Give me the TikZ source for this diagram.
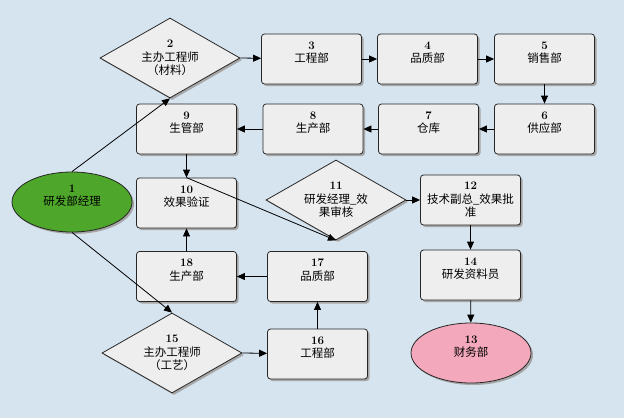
\documentclass[tikz,border=0pt]{standalone}
\usepackage{fontspec}
\newfontfamily\cjk{Noto Sans CJK SC}
\usetikzlibrary{shapes.geometric,arrows.meta,shadows}
\definecolor{bgblue}{RGB}{214,228,240}
\definecolor{boxgray}{RGB}{238,238,238}
\definecolor{mgrgreen}{RGB}{78,167,42}
\definecolor{finpink}{RGB}{244,168,188}
\newcommand\nr[1]{{\normalfont\bfseries #1}}
\begin{document}
\begin{tikzpicture}[x=1pt,y=-1pt,>={Triangle[length=8pt,width=7pt]},line width=0.8pt,
    font=\cjk\fontsize{11.5}{13.5}\selectfont,
    shadowed/.style={drop shadow={shadow xshift=2pt,shadow yshift=-2pt,fill=black!35,opacity=1}},
    box/.style={draw=black!85,fill=boxgray,rounded corners=3pt,minimum width=100pt,minimum height=50pt,inner sep=0pt,align=center,shadowed},
    check/.style={diamond,draw=black!85,fill=boxgray,aspect=1.75,minimum width=140pt,minimum height=80pt,inner sep=0pt,align=center,shadowed},
    oval/.style={ellipse,draw=black!85,minimum width=120pt,minimum height=60pt,inner sep=0pt,align=center,shadowed}]
        \fill[bgblue] (0,0) rectangle (624,418);
        % Nodes
        \node[oval, fill=mgrgreen] (n1) at (72,202) {\nr{1}\\研发部经理\\\mbox{}};
        \node[check] (n2) at (170,58) {\nr{2}\\主办工程师\\（材料）};
        \node[box] (n3) at (311.5,59) {\nr{3}\\工程部\\\mbox{}};
        \node[box] (n4) at (427.5,59) {\nr{4}\\品质部\\\mbox{}};
        \node[box] (n5) at (544.5,59) {\nr{5}\\销售部\\\mbox{}};
        \node[box] (n6) at (544.5,129) {\nr{6}\\供应部\\\mbox{}};
        \node[box] (n7) at (428.5,129) {\nr{7}\\仓库\\\mbox{}};
        \node[box] (n8) at (313,129) {\nr{8}\\生产部\\\mbox{}};
        \node[box] (n9) at (186.5,129) {\nr{9}\\生管部\\\mbox{}};
        \node[box] (n10) at (186.5,203) {\nr{10}\\效果验证\\\mbox{}};
        \node[check] (n11) at (336,200) {\nr{11}\\研发经理\_效\\果审核};
        \node[box] (n12) at (470.5,200) {\nr{12}\\技术副总\_效果批\\准};
        \node[box] (n14) at (470.5,275) {\nr{14}\\研发资料员\\\mbox{}};
        \node[oval, fill=finpink] (n13) at (471,353) {\nr{13}\\财务部\\\mbox{}};
        \node[check] (n15) at (172,353) {\nr{15}\\主办工程师\\（工艺）};
        \node[box] (n16) at (317.5,354) {\nr{16}\\工程部\\\mbox{}};
        \node[box] (n17) at (317.5,276.5) {\nr{17}\\品质部\\\mbox{}};
        \node[box] (n18) at (186.5,276.5) {\nr{18}\\生产部\\\mbox{}};
        % Arrows
        \draw[->] (n1.north) -- (n2.south);
        \draw[->] (n2.east) -- (n3);
        \draw[->] (n3) -- (n4);
        \draw[->] (n4) -- (n5);
        \draw[->] (n5) -- (n6);
        \draw[->] (n6) -- (n7);
        \draw[->] (n7) -- (n8);
        \draw[->] (n8) -- (n9);
        \draw[->] (n9) -- (n10);
        \draw[->] (n10.north) -- (n11.south);
        \draw[->] (n11.east) -- (n12);
        \draw[->] (n12) -- (n14);
        \draw[->] (n14) -- (n13);
        \draw[->] (n1.south) -- (n15.north);
        \draw[->] (n15.east) -- (n16);
        \draw[->] (n16) -- (n17);
        \draw[->] (n17) -- (n18);
        \draw[->] (n18) -- (n10);

    \end{tikzpicture}
\end{document}
